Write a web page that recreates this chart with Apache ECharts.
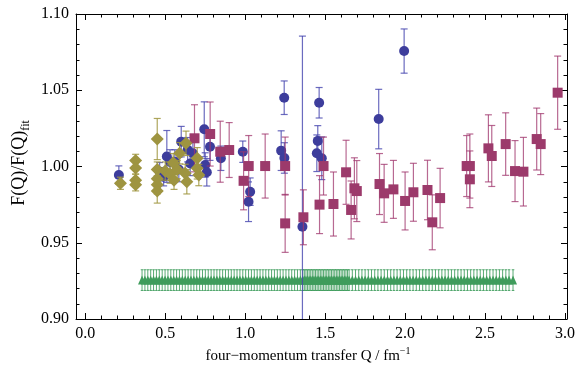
<!DOCTYPE html>
<html>
<head>
<meta charset="utf-8">
<script src="https://cdn.jsdelivr.net/npm/echarts@6/dist/echarts.min.js"></script>
<style>html,body{margin:0;padding:0;background:#fff}#c{width:579px;height:377px}</style>
</head>
<body>
<div id="c"></div>
<script>
// ---- data (Q in fm^-1, ratio F(Q)/F(Q)_fit, error) ----
const blueQ   = [0.21,0.465,0.49,0.51,0.53,0.56,0.585,0.60,0.64,0.656,0.673,0.744,0.75,0.76,0.78,0.848,0.985,1.021,1.031,1.225,1.245,1.244,1.358,1.448,1.454,1.4625,1.479,1.835,1.994];
const blueR   = [0.9944,0.9966,0.9933,1.0066,1.003,1.003,0.998,1.0163,1.011,1.002,1.0087,1.0244,1.001,0.9962,1.013,1.0054,1.0097,0.9769,0.9835,1.0104,1.0056,1.0451,0.9605,1.0087,1.0168,1.0418,1.0054,1.0311,1.0757];
const blueErr = [0.006,0.006,0.006,0.017,0.008,0.008,0.008,0.010,0.008,0.008,0.008,0.018,0.008,0.009,0.009,0.008,0.007,0.013,0.009,0.013,0.010,0.011,0.125,0.012,0.010,0.010,0.014,0.0195,0.0145];

const purpleQ   = [0.683,0.781,0.844,0.90,0.99,1.022,1.125,1.25,1.25,1.364,1.465,1.49,1.552,1.631,1.6625,1.683,1.698,1.84,1.869,1.927,2.0,2.052,2.14,2.17,2.219,2.385,2.405,2.405,2.521,2.542,2.629,2.6875,2.74,2.823,2.848,2.954];
const purpleR   = [1.0185,1.0213,1.0097,1.0108,0.9906,1.0003,1.0003,1.0003,0.9627,0.9667,0.975,1.0003,0.9754,0.9962,0.9715,0.9857,0.9839,0.9885,0.9824,0.985,0.9774,0.9831,0.9846,0.9634,0.9793,1.0003,1.0003,0.9916,1.0119,1.0069,1.0147,0.997,0.9966,1.018,1.0147,1.0484];
const purpleErr = [0.022,0.021,0.020,0.018,0.019,0.020,0.021,0.019,0.019,0.018,0.019,0.019,0.021,0.021,0.019,0.020,0.020,0.020,0.019,0.019,0.019,0.019,0.0195,0.018,0.0195,0.020,0.021,0.0186,0.022,0.020,0.0205,0.020,0.0225,0.0203,0.020,0.024];

const oliveQ   = [0.22,0.315,0.315,0.315,0.315,0.45,0.45,0.45,0.45,0.45,0.50,0.53,0.55,0.555,0.575,0.59,0.625,0.63,0.635,0.70,0.70,0.71];
const oliveR   = [0.989,1.004,0.999,0.991,0.988,1.018,0.998,0.992,0.988,0.984,0.997,0.995,1.0025,0.991,0.998,1.0087,0.9955,1.0152,0.990,1.0054,0.9988,0.9944];
const oliveErr = [0.004,0.004,0.004,0.004,0.004,0.0135,0.005,0.006,0.006,0.008,0.006,0.006,0.006,0.006,0.006,0.007,0.006,0.008,0.008,0.007,0.007,0.007];

const greenQ = [0.355,0.373,0.391,0.409,0.427,0.445,0.463,0.481,0.499,0.517,0.535,0.553,0.571,0.589,0.607,0.625,0.643,0.661,0.679,0.697,0.715,0.733,0.751,0.769,0.787,0.805,0.823,0.841,0.859,0.877,0.895,0.913,0.931,0.949,0.967,0.985,1.003,1.021,1.039,1.057,1.075,1.093,1.111,1.129,1.147,1.165,1.183,1.201,1.219,1.237,1.255,1.273,1.291,1.309,1.327,1.345,
1.360,1.370,1.380,1.390,1.400,1.410,1.420,1.430,1.440,1.450,1.460,1.470,1.480,1.490,1.500,1.510,1.520,1.530,1.540,1.550,1.560,1.570,1.580,1.590,1.600,1.610,1.620,1.630,1.640,1.650,
1.670,1.690,1.710,1.730,1.750,1.770,1.790,1.810,1.830,1.850,1.870,1.890,1.910,1.930,1.950,1.970,1.990,2.010,2.030,2.050,2.070,2.090,2.110,2.130,2.150,2.170,2.190,2.210,2.230,2.250,2.270,2.290,2.310,2.330,2.350,2.370,2.390,2.410,2.430,2.450,2.470,2.490,2.510,2.530,2.550,2.570,2.590,2.610,2.630,2.650,2.675];
const greenLevel = 0.9255;
const greenErr = 0.0068;

const xMajor = [0.0,0.5,1.0,1.5,2.0,2.5,3.0];
const xMinor = [0.1,0.2,0.3,0.4,0.6,0.7,0.8,0.9,1.1,1.2,1.3,1.4,1.6,1.7,1.8,1.9,2.1,2.2,2.3,2.4,2.6,2.7,2.8,2.9,3.0];

const xTitle = 'four\u2212momentum transfer Q / fm';
const xTitleSup = '\u22121';
const yTitle = 'F(Q)/F(Q)';
const yTitleSub = 'fit';

// ---- build ----
const FONT = '"Liberation Serif","Times New Roman",serif';
function zip(q, r, e) { return q.map((v, i) => [v, r[i], Array.isArray(e) ? e[i] : e]); }
const blueData = zip(blueQ, blueR, blueErr);
const purpleData = zip(purpleQ, purpleR, purpleErr);
const oliveData = zip(oliveQ, oliveR, oliveErr);
const greenData = greenQ.map(q => [q, greenLevel, greenErr]);

function errBars(data, color, capW, lw, z) {
  return {
    type: 'custom', data: data, z: z, silent: true,
    encode: { x: 0, y: 1 },
    renderItem: function (params, api) {
      const x = api.value(0), y = api.value(1), e = api.value(2);
      const cs = params.coordSys;
      const p0 = api.coord([x, y + e]);
      const p1 = api.coord([x, y - e]);
      const top = Math.max(p0[1], cs.y), bot = Math.min(p1[1], cs.y + cs.height);
      const st = { stroke: color, lineWidth: lw, fill: null };
      const ch = [{ type: 'line', shape: { x1: p0[0], y1: top, x2: p0[0], y2: bot }, style: st }];
      if (p0[1] >= cs.y) ch.push({ type: 'line', shape: { x1: p0[0] - capW / 2, y1: p0[1], x2: p0[0] + capW / 2, y2: p0[1] }, style: st });
      if (p1[1] <= cs.y + cs.height) ch.push({ type: 'line', shape: { x1: p1[0] - capW / 2, y1: p1[1], x2: p1[0] + capW / 2, y2: p1[1] }, style: st });
      return { type: 'group', children: ch };
    }
  };
}
function marks(data, symbol, size, color, z) {
  return { type: 'scatter', data: data.map(d => [d[0], d[1]]), symbol: symbol, symbolSize: size,
    itemStyle: { color: color, opacity: 1 }, z: z, silent: true, animation: false };
}

const XMIN = -0.058, XMAX = 3.0125;
const axisLineStyle = { color: '#000', width: 1 };
function xAx(pos, ticks, len, labels, line) {
  return {
    type: 'value', position: pos, min: XMIN, max: XMAX, gridIndex: 0,
    axisLine: { show: line, onZero: false, lineStyle: axisLineStyle },
    axisTick: { show: true, inside: true, length: len, customValues: ticks, lineStyle: axisLineStyle },
    axisLabel: labels ? { show: true, customValues: xMajor, formatter: v => v.toFixed(1), fontFamily: FONT, fontSize: 16, color: '#000', margin: 7 } : { show: false },
    splitLine: { show: false }
  };
}
function yAx(pos, labels) {
  return {
    type: 'value', position: pos, min: 0.90, max: 1.10, interval: 0.05,
    axisLine: { show: true, onZero: false, lineStyle: axisLineStyle },
    axisTick: { show: true, inside: true, length: 6, lineStyle: axisLineStyle },
    minorTick: { show: true, splitNumber: 5, length: 3.5, lineStyle: axisLineStyle },
    axisLabel: labels ? { show: true, formatter: v => v.toFixed(2), fontFamily: FONT, fontSize: 16, color: '#000', margin: 7 } : { show: false },
    splitLine: { show: false }, minorSplitLine: { show: false }
  };
}

const chart = echarts.init(document.getElementById('c'), null, { renderer: 'canvas' });
chart.setOption({
  animation: false,
  backgroundColor: '#fff',
  grid: { left: 76, right: 12, top: 14, bottom: 58, containLabel: false },
  xAxis: [xAx('bottom', xMajor, 6, true, true), xAx('bottom', xMinor, 3.5, false, false),
          xAx('top', xMajor, 6, false, true), xAx('top', xMinor, 3.5, false, false)],
  yAxis: [yAx('left', true), yAx('right', false)],
  series: [
    errBars(greenData, 'rgba(60,155,90,0.85)', 2.6, 1, 1),
    marks(greenData, 'triangle', [8, 9], '#3f9c5c', 2),
    errBars(blueData, 'rgba(70,70,175,0.8)', 7, 1.2, 3),
    marks(blueData, 'circle', 10, '#3d3d9c', 4),
    errBars(purpleData, 'rgba(160,55,110,0.75)', 7, 1.2, 5),
    marks(purpleData, 'rect', 10, '#9c3a6b', 6),
    errBars(oliveData, 'rgba(160,150,65,0.85)', 7, 1.2, 7),
    marks(oliveData, 'diamond', [13, 13], '#9e9440', 8)
  ],
  graphic: [
    { type: 'text', x: 308, y: 355, z: 100,
      style: { text: '{a|' + xTitle + '}{b|' + xTitleSup + '}', align: 'center', verticalAlign: 'middle',
        rich: { a: { fontFamily: FONT, fontSize: 15, lineHeight: 18, color: '#000', verticalAlign: 'bottom' },
                b: { fontFamily: FONT, fontSize: 10, lineHeight: 10, color: '#000', verticalAlign: 'top' } } } },
    { type: 'text', x: 21, y: 163, rotation: Math.PI / 2, z: 100,
      style: { text: '{a|' + yTitle + '}{b|' + yTitleSub + '}', align: 'center', verticalAlign: 'middle',
        rich: { a: { fontFamily: FONT, fontSize: 18, lineHeight: 22, color: '#000', verticalAlign: 'top' },
                b: { fontFamily: FONT, fontSize: 12, lineHeight: 12, color: '#000', verticalAlign: 'bottom' } } } }
  ]
});
</script>
</body>
</html>
